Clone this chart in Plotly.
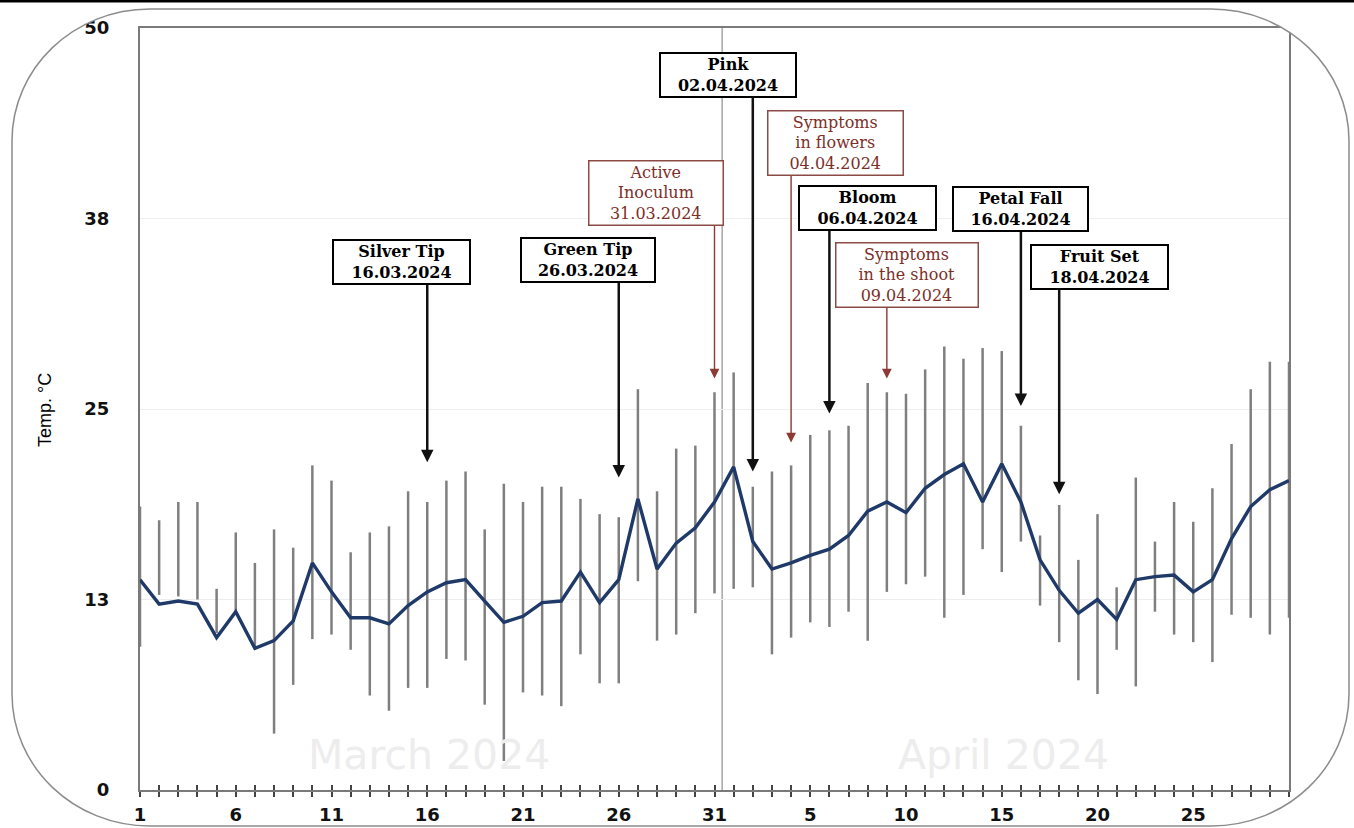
import plotly.graph_objects as go

# ---------------- data ----------------
march_days = list(range(1, 32))
april_days = list(range(1, 31))
day_labels = [str(d) for d in march_days] + [str(d) for d in april_days]
day_index = list(range(len(day_labels)))

t_mean = [13.8, 12.2, 12.4, 12.2, 10.0, 11.7, 9.3, 9.8, 11.1, 14.9,
          13.0, 11.3, 11.3, 10.9, 12.1, 13.0, 13.6, 13.8, 12.4, 11.0,
          11.4, 12.3, 12.4, 14.3, 12.3, 13.8, 19.1, 14.5, 16.2, 17.2,
          18.9, 21.2, 16.3, 14.5, 14.9, 15.4, 15.8, 16.7, 18.3, 18.9,
          18.2, 19.8, 20.7, 21.4, 18.9, 21.4, 18.9, 15.1, 13.1, 11.6,
          12.5, 11.2, 13.8, 14.0, 14.1, 13.0, 13.8, 16.5, 18.6, 19.7, 20.3]

t_max = [18.6, 17.7, 18.9, 18.9, 13.2, 16.9, 14.9, 17.1, 15.9, 21.3,
         20.3, 15.6, 16.9, 17.3, 19.6, 18.9, 20.3, 20.9, 17.1, 20.1,
         18.9, 19.9, 19.9, 19.1, 18.1, 17.9, 26.3, 19.6, 22.4, 22.6,
         26.1, 27.4, 19.9, 20.9, 21.3, 23.3, 23.6, 23.9, 26.7, 26.1,
         26.0, 27.6, 29.1, 28.3, 29.0, 28.8, 23.9, 16.7, 18.7, 15.1,
         18.1, 13.3, 20.5, 16.3, 18.9, 17.6, 19.8, 22.7, 26.3, 28.1, 28.1]

t_min = [9.4, 12.8, 12.7, 12.5, 10.3, 11.6, 9.4, 3.7, 6.9, 9.9,
         10.2, 9.2, 6.2, 5.2, 6.7, 6.7, 8.6, 8.5, 5.6, 1.9,
         6.4, 6.2, 5.5, 8.9, 7.0, 7.0, 13.7, 9.8, 10.2, 11.6,
         12.9, 13.2, 13.3, 8.9, 10.0, 11.0, 10.7, 11.7, 9.8, 13.0,
         13.5, 14.0, 11.3, 12.8, 15.8, 14.3, 16.3, 12.1, 9.7, 7.2,
         6.3, 9.2, 6.8, 11.7, 10.2, 9.7, 8.4, 11.5, 11.3, 10.2, 11.3]

y_tick_vals = [0, 12.5, 25, 37.5, 50]
y_tick_text = ["0", "13", "25", "38", "50"]

event_names = ["Silver Tip", "Green Tip", "Active<br>Inoculum", "Pink",
               "Symptoms<br>in flowers", "Bloom", "Symptoms<br>in the shoot",
               "Petal Fall", "Fruit Set"]
event_dates = ["16.03.2024", "26.03.2024", "31.03.2024", "02.04.2024",
               "04.04.2024", "06.04.2024", "09.04.2024", "16.04.2024", "18.04.2024"]
event_day = [15, 25, 30, 32, 34, 36, 39, 46, 48]
event_kind = ["stage", "stage", "disease", "stage", "disease",
              "stage", "disease", "stage", "stage"]
month_names = ["March 2024", "April 2024"]

# ---------------- layout helpers (positions / styles) ----------------
W, H = 1354, 828
PL, PR, PT, PB = 140, 1289, 28, 790  # plot area in pixels


def px(x):
    return (x - PL) / (PR - PL)


def py(y):
    return (PB - y) / (PB - PT)


box_center = [(13.66, 34.65), (23.39, 34.75), (26.95, 39.2), (30.70, 46.92),
              (36.32, 42.45), (37.99, 38.2), (40.05, 33.8), (45.98, 38.15),
              (50.10, 34.3)]
box_width_px = [137, 134, 134, 136, 135, 137, 142, 135, 137]
arrow_tail = [33.46, 33.53, 37.2, 45.54, 40.42, 36.88, 31.82, 36.81, 33.07]
arrow_tip = [21.5, 20.5, 27.0, 20.9, 22.8, 24.7, 27.0, 25.2, 19.4]
month_pos = [(15.1, 2.3), (45.1, 2.3)]

BROWN = "#7d2e28"
MEAN_COLOR = "#1f3a68"
BAR_COLOR = "#7f7f7f"
TICK_FONT = dict(family="DejaVu Sans", size=18, color="#111111", weight="bold")

# ---------------- traces ----------------
bar_x, bar_y = [], []
for i, lo, hi in zip(day_index, t_min, t_max):
    bar_x += [i, i, None]
    bar_y += [lo, hi, None]

fig = go.Figure()
fig.add_trace(go.Scatter(x=bar_x, y=bar_y, mode="lines",
                         line=dict(color=BAR_COLOR, width=2.5),
                         hoverinfo="skip", showlegend=False))
fig.add_trace(go.Scatter(x=day_index, y=t_mean, mode="lines",
                         line=dict(color=MEAN_COLOR, width=3.4),
                         showlegend=False))
# invisible trace to anchor the secondary tick axis
fig.add_trace(go.Scatter(x=[day_index[0]], y=[t_mean[0]], xaxis="x2",
                         mode="markers", marker=dict(opacity=0),
                         hoverinfo="skip", showlegend=False))

annotations = []
# month watermarks
for name, (mx, my) in zip(month_names, month_pos):
    annotations.append(dict(x=mx, y=my, xref="x", yref="y", text=name,
                            showarrow=False,
                            font=dict(family="DejaVu Sans", size=41,
                                      color="#ededed")))

# arrows
for d, tail, tip, kind in zip(event_day, arrow_tail, arrow_tip, event_kind):
    col = "#111111" if kind == "stage" else "#8b3a34"
    annotations.append(dict(x=d, y=tip, ax=d, ay=tail, xref="x", yref="y",
                            axref="x", ayref="y", text="", showarrow=True,
                            arrowhead=2, arrowsize=1 if kind == "stage" else 1.4,
                            arrowwidth=2.5 if kind == "stage" else 1.4,
                            arrowcolor=col, standoff=0, startstandoff=0))

# boxes
for name, date, kind, (cx, cy), bw in zip(event_names, event_dates, event_kind,
                                          box_center, box_width_px):
    if kind == "stage":
        txt = "<b>" + name + "<br>" + date + "</b>"
        col, bcol, bwid = "#000000", "#000000", 2
    else:
        txt = name + "<br>" + date
        col, bcol, bwid = BROWN, "#8b4a44", 1.5
    annotations.append(dict(x=cx, y=cy, xref="x", yref="y", text=txt,
                            showarrow=False, xanchor="center", yanchor="middle",
                            align="center", width=bw - bwid - 2,
                            font=dict(family="DejaVu Serif", size=16, color=col),
                            bgcolor="white", bordercolor=bcol,
                            borderwidth=bwid, borderpad=1))

# y-axis title
annotations.append(dict(x=px(45), y=py(410), xref="paper", yref="paper",
                        xanchor="center", yanchor="middle",
                        text="Temp. °C", textangle=-90, showarrow=False,
                        font=dict(family="Liberation Sans", size=18, color="#000")))

# rounded frame + outside mask
x0, x1, y0, y1 = 12, 1349, 9, 826
rx, ry = 138, 132
k = 0.5523


def P(x, y):
    return f"{px(x):.5f},{py(y):.5f}"


outer = (f"M {P(-20, -20)} L {P(W + 20, -20)} L {P(W + 20, H + 20)} "
         f"L {P(-20, H + 20)} Z")
inner = (f"M {P(x0 + rx, y0)} "
         f"C {P(x0 + rx - k * rx, y0)} {P(x0, y0 + ry - k * ry)} {P(x0, y0 + ry)} "
         f"L {P(x0, y1 - ry)} "
         f"C {P(x0, y1 - ry + k * ry)} {P(x0 + rx - k * rx, y1)} {P(x0 + rx, y1)} "
         f"L {P(x1 - rx, y1)} "
         f"C {P(x1 - rx + k * rx, y1)} {P(x1, y1 - ry + k * ry)} {P(x1, y1 - ry)} "
         f"L {P(x1, y0 + ry)} "
         f"C {P(x1, y0 + ry - k * ry)} {P(x1 - rx + k * rx, y0)} {P(x1 - rx, y0)} Z")

shapes = [
    dict(type="line", xref="x", yref="paper", x0=30.4, x1=30.4, y0=0, y1=1,
         line=dict(color="#a6a6a6", width=1.5), layer="below"),
    dict(type="path", xref="paper", yref="paper", path=outer + " " + inner,
         fillcolor="white", fillrule="evenodd",
         line=dict(color="#8c8c8c", width=1.5), layer="above"),
    dict(type="line", xref="paper", yref="paper", x0=px(0), x1=px(W),
         y0=py(1), y1=py(1), line=dict(color="#000000", width=3), layer="above"),
]

x_tick_text = [lab if i % 5 == 0 else "" for i, lab in zip(day_index, day_labels)]

fig.update_layout(
    width=W, height=H, autosize=False,
    margin=dict(l=PL, r=W - PR, t=PT, b=H - PB, pad=0, autoexpand=False),
    paper_bgcolor="white", plot_bgcolor="white",
    showlegend=False,
    xaxis=dict(range=[0, 60], tickmode="array", tickvals=day_index,
               ticktext=x_tick_text, ticks="outside", ticklen=5, tickwidth=1.5,
               tickcolor="#444", showline=True, linecolor="#7a7a7a", linewidth=2,
               mirror=True, showgrid=False, zeroline=False, tickfont=TICK_FONT,
               ticklabelstandoff=2, automargin=False),
    xaxis2=dict(range=[0, 60], overlaying="x", anchor="y", side="bottom",
                tickmode="array", tickvals=day_index, ticks="inside", ticklen=5,
                tickwidth=1.5, tickcolor="#444", showticklabels=False,
                showline=False, showgrid=False, zeroline=False, automargin=False),
    yaxis=dict(range=[0, 50], tickmode="array", tickvals=y_tick_vals,
               ticktext=y_tick_text, ticks="", showline=True,
               linecolor="#7a7a7a", linewidth=2, mirror=True, showgrid=True,
               gridcolor="#eeeeee", gridwidth=1, zeroline=False,
               tickfont=TICK_FONT, ticklabelstandoff=25, automargin=False),
    annotations=annotations,
    shapes=shapes,
)

fig.write_html("out.html",
               config={"displayModeBar": False},
               post_script="document.body.style.margin='0px';"
                           "document.body.style.padding='0px';"
                           "document.body.style.overflow='hidden';")
